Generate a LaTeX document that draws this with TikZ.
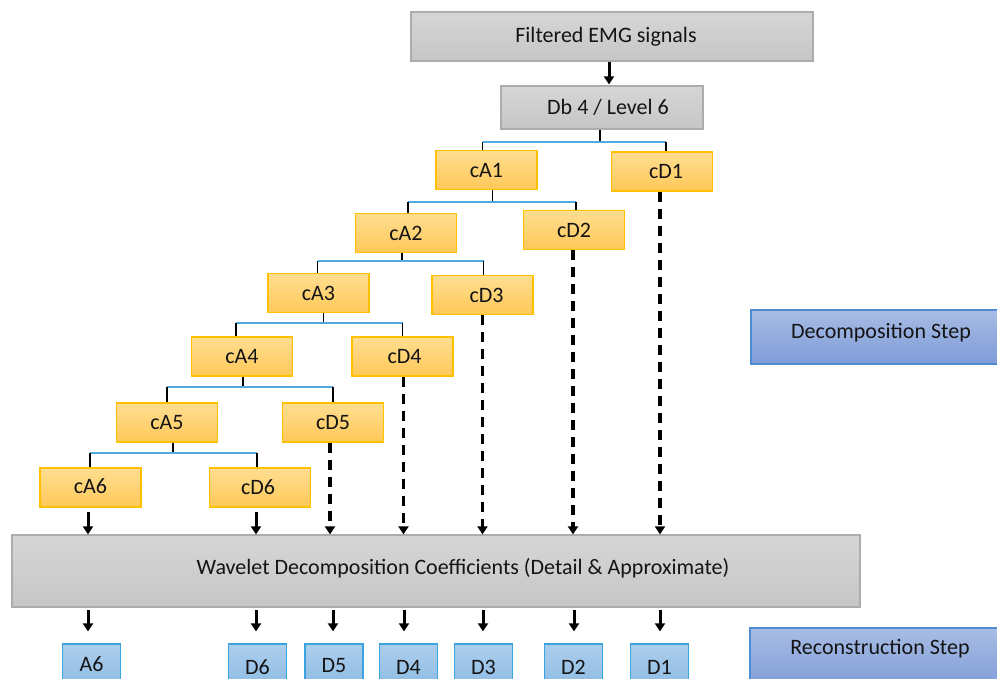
\documentclass[tikz,border=0pt]{standalone}
\usepackage{fontspec}
\setmainfont{Carlito}
\usetikzlibrary{arrows.meta,calc}
\definecolor{grayfillA}{RGB}{214,214,214}
\definecolor{grayfillB}{RGB}{198,198,198}
\definecolor{grayline}{RGB}{172,172,172}
\definecolor{orfillA}{RGB}{255,222,145}
\definecolor{orfillB}{RGB}{255,200,88}
\definecolor{orline}{RGB}{255,192,0}
\definecolor{bluefillA}{RGB}{172,206,236}
\definecolor{bluefillB}{RGB}{140,186,228}
\definecolor{blueline}{RGB}{58,164,224}
\definecolor{stepfillA}{RGB}{168,188,228}
\definecolor{stepfillB}{RGB}{126,156,216}
\definecolor{stepline}{RGB}{78,140,214}
\definecolor{barblue}{RGB}{80,170,225}
\definecolor{txt}{RGB}{20,20,20}
\begin{document}
\begin{tikzpicture}[x=1pt,y=-1pt,
  every node/.style={font=\fontsize{22}{26}\selectfont, text=txt, inner sep=0pt},
  graybox/.style={draw=grayline, line width=1.2pt, top color=grayfillA, bottom color=grayfillB, rectangle},
  orbox/.style={draw=orline, line width=1.2pt, top color=orfillA, bottom color=orfillB, rectangle,
    minimum width=101pt, minimum height=39pt},
  recbox/.style={draw=blueline, line width=1.2pt, top color=bluefillA, bottom color=bluefillB, rectangle,
    minimum width=58pt, minimum height=46pt},
  stepbox/.style={draw=stepline, line width=1.2pt, top color=stepfillA, bottom color=stepfillB, rectangle,
    minimum width=260pt, minimum height=54pt},
  stem/.style={line width=1.2pt, black},
  bar/.style={line width=1.6pt, barblue},
  arr/.style={line width=3pt, black, -{Triangle[width=10pt,length=8pt]}},
  darr/.style={arr, line width=3.4pt, dash pattern=on 10pt off 7pt}]
\useasboundingbox (0,0) rectangle (997,679);
\begin{scope}
\clip (0,0) rectangle (997,679);
% gray boxes
\node[graybox, minimum width=402pt, minimum height=49pt] (emg) at (612,36.5) {\raisebox{3pt}{Filtered EMG signals\hspace*{12pt}}};
\node[graybox, minimum width=202pt, minimum height=43pt] (db) at (602,107.5) {\hspace*{12pt}Db 4 / Level 6};
% orange boxes
\node[orbox] (cA1) at (486.5,170) {cA1};
\node[orbox] (cD1) at (662,171.5) {\raisebox{-3pt}{\hspace*{8pt}cD1}};
\node[orbox] (cA2) at (406,233) {cA2};
\node[orbox] (cD2) at (574,230) {cD2};
\node[orbox] (cA3) at (318.5,293) {cA3};
\node[orbox] (cD3) at (482.5,295) {\hspace*{8pt}cD3};
\node[orbox] (cA4) at (242,356.5) {cA4};
\node[orbox] (cD4) at (402.5,356.5) {\hspace*{4pt}cD4};
\node[orbox] (cA5) at (167,422.5) {cA5};
\node[orbox] (cD5) at (333,422.5) {cD5};
\node[orbox] (cA6) at (90.5,487.5) {\raisebox{2pt}{cA6}};
\node[orbox] (cD6) at (260,487.5) {\raisebox{-2pt}{\hspace*{-4pt}cD6}};
% big box
\node[graybox, minimum width=848pt, minimum height=72pt] (big) at (436,571)
  {\raisebox{9pt}{\hspace*{54pt}Wavelet Decomposition Coefficients (Detail \& Approximate)}};
% reconstructed boxes
\node[recbox] (A6) at (91.5,667) {\raisebox{6pt}{A6}};
\node[recbox] (D6) at (257.5,667) {\raisebox{0pt}{D6}};
\node[recbox] (D5) at (334,667) {\raisebox{3pt}{D5}};
\node[recbox] (D4) at (408.5,667) {\raisebox{0pt}{D4}};
\node[recbox] (D3) at (483.5,667) {\raisebox{0pt}{D3}};
\node[recbox] (D2) at (573.5,667) {\raisebox{0pt}{D2}};
\node[recbox] (D1) at (659.5,667) {\raisebox{0pt}{D1}};
% step boxes
\node[stepbox] (dec) at (881,337) {\raisebox{12pt}{Decomposition Step}};
\node[stepbox, minimum height=62pt] (rec) at (880,659) {\raisebox{24pt}{Reconstruction Step}};
% bar levels
\coordinate (b0) at (0,142);
\coordinate (b1) at (0,202);
\coordinate (b2) at (0,261);
\coordinate (b3) at (0,323);
\coordinate (b4) at (0,387);
\coordinate (b5) at (0,453);
% tree connectors
\draw[arr, shorten >=1pt] ([xshift=-3pt]emg.south) -- ([xshift=-3pt]emg.south |- db.north);
\draw[stem] ([xshift=-2pt]db.south) -- ([xshift=-2pt]db.south |- b0);
\draw[bar] ([xshift=-4pt]cA1.north |- b0) -- ([xshift=4pt]cD1.north |- b0);
\draw[stem] ([xshift=-4pt]cA1.north |- b0) -- ([xshift=-4pt]cA1.north);
\draw[stem] ([xshift=4pt]cD1.north |- b0) -- ([xshift=4pt]cD1.north);

\draw[stem] ([xshift=6pt]cA1.south) -- ([xshift=6pt]cA1.south |- b1);
\draw[bar] ([xshift=2pt]cA2.north |- b1) -- ([xshift=2pt]cD2.north |- b1);
\draw[stem] ([xshift=2pt]cA2.north |- b1) -- ([xshift=2pt]cA2.north);
\draw[stem] ([xshift=2pt]cD2.north |- b1) -- ([xshift=2pt]cD2.north);

\draw[stem] ([xshift=-4pt]cA2.south) -- ([xshift=-4pt]cA2.south |- b2);
\draw[bar] ([xshift=-1pt]cA3.north |- b2) -- ([xshift=1pt]cD3.north |- b2);
\draw[stem] ([xshift=-1pt]cA3.north |- b2) -- ([xshift=-1pt]cA3.north);
\draw[stem] ([xshift=1pt]cD3.north |- b2) -- ([xshift=1pt]cD3.north);

\draw[stem] ([xshift=5pt]cA3.south) -- ([xshift=5pt]cA3.south |- b3);
\draw[bar] ([xshift=-6pt]cA4.north |- b3) -- (cD4.north |- b3);
\draw[stem] ([xshift=-6pt]cA4.north |- b3) -- ([xshift=-6pt]cA4.north);
\draw[stem] (cD4.north |- b3) -- (cD4.north);

\draw[stem] ([xshift=1pt]cA4.south) -- ([xshift=1pt]cA4.south |- b4);
\draw[bar] (cA5.north |- b4) -- (cD5.north |- b4);
\draw[stem] (cA5.north |- b4) -- (cA5.north);
\draw[stem] (cD5.north |- b4) -- (cD5.north);

\draw[stem] ([xshift=6pt]cA5.south) -- ([xshift=6pt]cA5.south |- b5);
\draw[bar] ([xshift=-0.5pt]cA6.north |- b5) -- ([xshift=-3pt]cD6.north |- b5);
\draw[stem] ([xshift=-0.5pt]cA6.north |- b5) -- ([xshift=-0.5pt]cA6.north);
\draw[stem] ([xshift=-3pt]cD6.north |- b5) -- ([xshift=-3pt]cD6.north);
% arrows into big box
\draw[arr, shorten <=4pt] ([xshift=-2.5pt]cA6.south) -- ([xshift=-2.5pt]cA6.south |- big.north);
\draw[arr, shorten <=4pt] ([xshift=-4pt]cD6.south) -- ([xshift=-4pt]cD6.south |- big.north);
\draw[darr] ([xshift=-3pt]cD5.south) -- ([xshift=-3pt]cD5.south |- big.north);
\draw[darr] ([xshift=1pt]cD4.south) -- ([xshift=1pt]cD4.south |- big.north);
\draw[darr] (cD3.south) -- (cD3.south |- big.north);
\draw[darr] ([xshift=-1pt]cD2.south) -- ([xshift=-1pt]cD2.south |- big.north);
\draw[darr] ([xshift=-2pt]cD1.south) -- ([xshift=-2pt]cD1.south |- big.north);
% arrows out of big box
\foreach \n/\dx in {A6/-3.5, D6/-1.5, D5/-1, D4/-4.5, D3/-0.5, D2/0.5, D1/0.5} {
  \draw[arr, shorten <=2pt, shorten >=12pt] ([xshift=\dx pt]big.south -| \n.north) -- ([xshift=\dx pt]\n.north);
}
\end{scope}
\end{tikzpicture}
\end{document}
